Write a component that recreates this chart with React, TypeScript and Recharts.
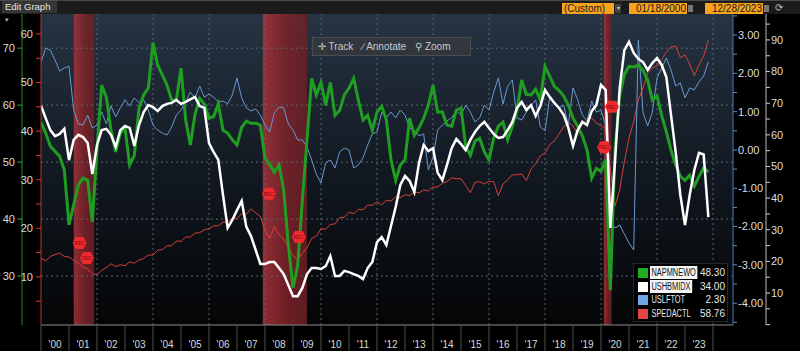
import React from 'react';
import {
  ComposedChart,
  Line,
  XAxis,
  YAxis,
  ReferenceArea,
  ReferenceLine,
  ReferenceDot,
} from 'recharts';

// bimonthly observations, Jan 2000 .. Nov 2023
const napmnewo = [
  57, 55.1, 52.8, 51.9, 51, 48.6, 39, 42.5, 46, 47.2, 46.8, 39.5,
  52.1, 63.5, 61.4, 55.6, 51.8, 55.1, 56, 49.5, 51.2, 59.5, 61.8, 63,
  71, 67, 65.3, 63.5, 60.9, 60.9, 66.5, 57.4, 53, 58.4, 61.2, 60.2,
  57.7, 58,
  60.2, 55.6, 55.1, 53.9, 53, 56.1, 57.2, 56.8, 56.8, 56.5, 50.7, 49.6,
  48.2, 49.5, 45.1, 35.4, 27.9, 31.9, 43.3, 53.9, 64.7, 61.8, 64, 60,
  64, 58.2, 59.1, 61.8, 63, 64.7, 60.9, 57.4, 58.2, 55.6, 58.8, 59.8,
  57.4, 50.4, 46.8, 49.5, 50.4, 57.7, 54.7, 56, 57.7, 60, 63.5, 58.8,
  58.8, 56.5, 56.3, 59.1, 59.5, 52.8, 51.2, 53.7, 54.2, 51.8, 50.4, 54.2,
  56.3, 57, 53.9, 56.3, 59.1, 64.4, 61.9, 61.8, 62.8, 60.9, 66.8, 65.1,
  63.3, 62.6, 61.6, 60, 57.7, 56.3, 54.6, 52.1, 47.2, 48.9, 48.4, 50.4,
  27.5, 52.1, 61.6, 65.4, 66.8, 66.7, 67, 66.1, 64.4, 60.9, 61.6, 58.2,
  55.3, 52.1, 49.5, 47.5, 46.8, 47.7, 45.8, 47.5, 49, 48.3,
];

const ushbmidx = [
  69.2, 65.3, 61.5, 59.6, 60.3, 61.9, 52, 58.4, 60, 59.3, 57.4, 47.6,
  56.8, 61.5, 61.9, 60, 56.2, 61.5, 62.8, 62.2, 56.5, 63.1, 67.2, 69.4,
  68.8, 67.5, 69.1, 69.8, 70.1, 71, 69.8, 70.4, 71.2, 72, 69.1, 68.5,
  57.4, 54.5,
  52.1, 41, 30.6, 33.1, 36.2, 39.1, 30.9, 28, 23.6, 19.2, 19.2, 19.8,
  19.8, 17.9, 16, 12.5, 9, 9, 11.6, 16, 17.9, 17.9, 17.6, 18.5,
  21.7, 15.4, 15.4, 17, 16.6, 16, 15.4, 14.4, 17.9, 19.8, 26.1, 27.7,
  25.2, 31.2, 37.2, 44.2, 47, 45.4, 41.9, 51.1, 56.8, 54.9, 55.8, 48,
  45.7, 50.5, 55.8, 58.7, 57.1, 55.2, 58.4, 60.9, 62.8, 64.1, 62.2, 60.3,
  59, 59.3, 61.5, 64.1, 68.5, 70.4, 67.9, 69.4, 66, 69.1, 74.2, 72,
  70.1, 68.5, 66.3, 62.2, 56.5, 61.5, 64.1, 63.1, 67.5, 69.4, 75.8, 74.2,
  30.6, 51.7, 74.8, 86.8, 89.4, 85.9, 84, 83, 80.5, 82.7, 84.3, 82.1,
  78.3, 66.3, 54.6, 41, 31.5, 41, 48.9, 54.3, 53.8, 34,
];

const uslftot = [
  2.3, 2.66, 2.61, 2.35, 2.06, 2.14, 2.19, 1.04, 0.68, 0.65, 0.91, 0.57,
  0.65, 0.99, 0.68, 1.15, 0.86, 1.1, 1.31, 1.15, 1.36, 1.23, 1.31, 1.04,
  0.65, 0.52, 0.44, 0.39, 0.6, 0.91, 1.04, 1.25, 1.51, 1.36, 1.67, 1.38,
  1.46, 1.38,
  1.25, 1.28, 1.2, 1.44, 1.88, 1.36, 1.1, 1.02, 1.07, 0.91, 0.65, 0.47,
  0.97, 1.12, 1.1, 0.68, 0.52, 0.26, 0.26, 0.08, -0.26, -0.63, -0.86, -0.34,
  -0.26, -0.47, -0.05, 0.05, 0, -0.47, -0.39, -0.21, 0.13, 0.42, 0.47, 0.99,
  0.84, 0.99, 0.84, 1.04, 0.91, 0.57, 0.52, 0.37, 0.42, -0.52, -0.18, 0.52,
  0.65, 0.76, 0.84, 1.02, 0.91, 1.17, 0.99, 0.73, 0.84, 1.17, 1.04, 1.51,
  1.88, 1.2, 1.67, 1.83, 0.84, 0.78, 0.99, 1.15, 1.31, 0.6, 0.5, 1.36,
  1.2, 1.1, 1.17, 0.65, 1.62, 1.31, 0.91, 0.76, 1.28, 0.99, 1.04, 0.65,
  -1.86, -2.04, -1.96, -2.19, -2.43, -2.61, 2.87, 0.97, 0.63, 0.99, 1.88, 2.14,
  2.4, 2.09, 1.67, 1.75, 1.36, 1.62, 1.57, 1.78, 1.93, 2.3,
];

const spedactl = [
  13.9, 13.3, 14.2, 14.6, 14.9, 14.2, 14.1, 13.4, 12.9, 12.0, 11.6, 10.7,
  10.4, 11.4, 11.9, 12.7, 12.1, 12.5, 12.3, 13.1, 12.8, 13.5, 13.8, 14.5,
  14.5, 15.5, 15.6, 16.4, 16.4, 17.4, 17.3, 18.2, 18.2, 19.0, 19.1, 19.7,
  19.9, 20.5,
  20.5, 21.3, 21.3, 22.1, 22.0, 23.0, 22.9, 24.0, 23.2, 22.4, 19.6, 17.9,
  20.3, 18.7, 17.8, 16.2, 14.3, 13.5, 14.9, 16.0, 17.9, 18.4, 19.9, 19.8,
  20.8, 20.9, 22.2, 22.3, 23.3, 23.0, 23.9, 23.8, 24.8, 24.7, 25.5, 24.8,
  25.8, 25.6, 26.5, 26.3, 26.9, 26.7, 27.5, 27.3, 27.9, 27.7, 28.5, 28.5,
  29.3, 29.6, 30.4, 30.2, 30.2, 28.8, 27.3, 29.5, 29.6, 29.1, 29.7, 29.6,
  26.7, 29.1, 30.0, 31.0, 31.0, 31.2, 29.8, 32.2, 33.3, 34.9, 35.5, 37.2,
  38.0, 39.4, 40.9, 41.7, 41.1, 39.4, 41.5, 42.1, 42.7, 41.7, 41.1, 40.5,
  32.0, 24.6, 27.9, 33.7, 38.6, 41.9, 46.4, 48.9, 52.0, 53.0, 53.4, 54.7,
  56.3, 57.3, 57.5, 55.1, 55.7, 53.8, 51.4, 53.6, 55.5, 58.76,
];

const yearTicks = [
  2000, 2001, 2002, 2003, 2004, 2005, 2006, 2007, 2008, 2009, 2010, 2011, 2012,
  2013, 2014, 2015, 2016, 2017, 2018, 2019, 2020, 2021, 2022, 2023, 2024,
];
const gridYears = [2002, 2004, 2006, 2008, 2010, 2012, 2014, 2016, 2018, 2020, 2022, 2024];
const napmTicks = [30, 40, 50, 60, 70];
const spedTicks = [5, 10, 15, 20, 25, 30, 35, 40, 45, 50, 55, 60];
const lfTicks = [-4.5, -4, -3.5, -3, -2.5, -2, -1.5, -1, -0.5, 0, 0.5, 1, 1.5, 2, 2.5, 3, 3.5];
const nahbTicks = [0, 5, 10, 15, 20, 25, 30, 35, 40, 45, 50, 55, 60, 65, 70, 75, 80, 85, 90, 95];

const recessions = [
  [2001.17, 2001.9],
  [2007.92, 2009.5],
  [2020.1, 2020.38],
];
const recTags = [
  { t: 2001.38, v: 17 },
  { t: 2001.64, v: 13.9 },
  { t: 2008.14, v: 27.1 },
  { t: 2009.21, v: 18.2 },
  { t: 2020.39, v: 45 },
  { t: 2020.11, v: 36.7 },
];

const legendItems = [
  { name: 'NAPMNEWO', color: '#1fae22', last: '48.30', boxed: true },
  { name: 'USHBMIDX', color: '#ffffff', last: '34.00', boxed: true },
  { name: 'USLFTOT', color: '#6ea6e6', last: '2.30', boxed: false },
  { name: 'SPEDACTL', color: '#e64545', last: '58.76', boxed: false },
];

const data = napmnewo.map((v, i) => ({
  t: 2000 + i / 6,
  napm: v,
  nahb: ushbmidx[i],
  lf: uslftot[i],
  sped: spedactl[i],
}));

const FONT = '"Liberation Sans", Arial, sans-serif';
const X_MAX = 2024.714;

// axis ids: sorted order decides stacking (first = next to the plot)
const SPED = 'a_sped';
const NAPM = 'b_napm';
const LF = 'c_lf';
const NAHB = 'd_nahb';

function YearTick(props: any) {
  const { x, y, payload } = props;
  const yr = payload.value as number;
  return (
    <g>
      <line x1={x} x2={x} y1={y} y2={y + 26} stroke="#4d4d4d" />
      {yr < 2024 && (
        <text x={x + 14} y={y + 23} textAnchor="middle" fill="#d8d8d8" fontSize={10} fontFamily={FONT}>
          {"'" + String(yr).slice(2)}
        </text>
      )}
    </g>
  );
}

function RecTag(props: any) {
  const { cx, cy } = props;
  if (cx == null || cy == null) return null;
  const pts = [
    [cx - 7, cy],
    [cx - 4, cy - 6],
    [cx + 4, cy - 6],
    [cx + 7, cy],
    [cx + 4, cy + 6],
    [cx - 4, cy + 6],
  ]
    .map((p) => p.join(','))
    .join(' ');
  return (
    <g>
      <polygon points={pts} fill="#ee2a2f" />
      <text x={cx} y={cy + 2} textAnchor="middle" fontSize={5} fill="#8a0a0a" fontFamily={FONT}>
        REC
      </text>
    </g>
  );
}

const orange = { background: '#f7a31e', color: '#1a1a1a', fontSize: 10, lineHeight: '11px', position: 'absolute' as const, top: 2, height: 11 };

export default function App() {
  return (
    <div style={{ position: 'fixed', left: 0, top: 0, width: 800, height: 351, background: '#000', overflow: 'hidden', fontFamily: FONT }}>
      <ComposedChart width={800} height={351} data={data} margin={{ top: 14, right: 0, bottom: 0, left: 0 }}>
        <defs>
          <linearGradient id="plotBg" x1="0" y1="0" x2="0" y2="1">
            <stop offset="0%" stopColor="#263443" />
            <stop offset="50%" stopColor="#121922" />
            <stop offset="100%" stopColor="#040506" />
          </linearGradient>
          <linearGradient id="recBg" x1="0" y1="0" x2="1" y2="0">
            <stop offset="0%" stopColor="#a8343b" />
            <stop offset="55%" stopColor="#7c2228" />
            <stop offset="100%" stopColor="#6a2026" />
          </linearGradient>
        </defs>
        <XAxis
          dataKey="t"
          type="number"
          domain={[2000, X_MAX]}
          ticks={yearTicks}
          allowDataOverflow
          height={26}
          tickSize={0}
          tickMargin={0}
          tickLine={false}
          axisLine={{ stroke: '#8a8a8a' }}
          tick={<YearTick />}
          interval={0}
        />
        <YAxis
          yAxisId={SPED}
          orientation="left"
          width={19}
          domain={[0.1, 64.1]}
          allowDataOverflow
          ticks={spedTicks}
          interval={0}
          tickFormatter={(v: number) => (v % 10 === 0 ? String(v) : '')}
          tickSize={5}
          tickMargin={3}
          tick={{ fill: '#dcdcdc', fontSize: 11, fontFamily: FONT }}
          tickLine={{ stroke: '#d03a3a' }}
          axisLine={{ stroke: '#b83232' }}
        />
        <YAxis
          yAxisId={NAPM}
          orientation="left"
          width={22}
          domain={[21.4, 76]}
          allowDataOverflow
          ticks={napmTicks}
          interval={0}
          tickSize={5}
          tickMargin={2}
          tick={{ fill: '#dcdcdc', fontSize: 11, fontFamily: FONT }}
          tickLine={{ stroke: '#2aa82a' }}
          axisLine={{ stroke: '#238a23' }}
        />
        <YAxis
          yAxisId={LF}
          orientation="right"
          width={33}
          domain={[-4.57, 3.55]}
          allowDataOverflow
          ticks={lfTicks}
          interval={0}
          tickFormatter={(v: number) => (Number.isInteger(v) ? v.toFixed(2) : '')}
          tickSize={4}
          tickMargin={1}
          tick={{ fill: '#dcdcdc', fontSize: 11, fontFamily: FONT }}
          tickLine={{ stroke: '#5a8ccc' }}
          axisLine={{ stroke: '#4a78b0' }}
        />
        <YAxis
          yAxisId={NAHB}
          orientation="right"
          width={34}
          domain={[-0.1, 98.2]}
          allowDataOverflow
          ticks={nahbTicks}
          interval={0}
          tickFormatter={(v: number) => (v % 10 === 0 && v > 0 ? String(v) : '')}
          tickSize={4}
          tickMargin={1}
          tick={{ fill: '#dcdcdc', fontSize: 11, fontFamily: FONT }}
          tickLine={{ stroke: '#d0d0d0' }}
          axisLine={{ stroke: '#bdbdbd' }}
        />

        <ReferenceArea yAxisId={NAPM} x1={2000} x2={X_MAX} fill="url(#plotBg)" fillOpacity={1} stroke="none" zIndex={-300} />
        {recessions.map(([a, b]) => (
          <ReferenceArea key={a} yAxisId={NAPM} x1={a} x2={b} fill="url(#recBg)" fillOpacity={0.85} stroke="none" zIndex={-250} />
        ))}
        {napmTicks.map((v) => (
          <ReferenceLine key={'h' + v} yAxisId={NAPM} y={v} stroke="#5b6570" strokeDasharray="2 3" zIndex={-200} />
        ))}
        {gridYears.map((yr) => (
          <ReferenceLine key={'v' + yr} yAxisId={NAPM} x={yr} stroke="#5b6570" strokeDasharray="2 3" zIndex={-200} />
        ))}

        <Line yAxisId={SPED} dataKey="sped" stroke="#d8403a" strokeWidth={1} dot={false} activeDot={false} isAnimationActive={false} />
        <Line yAxisId={LF} dataKey="lf" stroke="#6a98cf" strokeWidth={1} dot={false} activeDot={false} isAnimationActive={false} />
        <Line yAxisId={NAPM} dataKey="napm" stroke="#1f9e22" strokeWidth={3} dot={false} activeDot={false} isAnimationActive={false} />
        <Line yAxisId={NAHB} dataKey="nahb" stroke="#ffffff" strokeWidth={2.5} dot={false} activeDot={false} isAnimationActive={false} />

        {recTags.map((r) => (
          <ReferenceDot key={r.t} yAxisId={SPED} x={r.t} y={r.v} shape={<RecTag />} zIndex={700} />
        ))}
      </ComposedChart>

      {/* top bar */}
      <div style={{ position: 'absolute', left: 0, top: 0, width: 800, height: 14, background: '#1b1b1b', borderTop: '1px solid #4a4a4a', boxSizing: 'border-box' }}>
        <div style={{ position: 'absolute', left: 2, top: 0, width: 52, height: 12, background: '#363636', color: '#e6e6e6', fontSize: 9.5, lineHeight: '12px', paddingLeft: 3 }}>
          Edit Graph <span style={{ fontSize: 7, color: '#aaa' }}>▾</span>
        </div>
        <div style={{ ...orange, left: 562, width: 50, paddingLeft: 2 }}>(Custom)</div>
        <div style={{ position: 'absolute', left: 615, top: 3, width: 6, height: 9, background: '#444', color: '#ccc', fontSize: 6, lineHeight: '9px', textAlign: 'center' }}>▾</div>
        <div style={{ ...orange, left: 629, width: 57, textAlign: 'right', paddingRight: 1 }}>01/18/2000</div>
        <div style={{ position: 'absolute', left: 688, top: 4, width: 5, height: 7, background: '#777' }} />
        <div style={{ ...orange, left: 705, width: 57, textAlign: 'right', paddingRight: 1 }}>12/28/2023</div>
        <div style={{ position: 'absolute', left: 764, top: 4, width: 5, height: 7, background: '#777' }} />
        <div style={{ position: 'absolute', left: 775, top: 0, color: '#bbb', fontSize: 10, lineHeight: '13px' }}>⟳</div>
      </div>

      {/* chart toolbar */}
      <div style={{ position: 'absolute', left: 312, top: 37, width: 157, height: 17, background: 'rgba(52,56,62,0.85)', border: '1px solid #4c4c4c', color: '#c8c8c8', fontSize: 10, lineHeight: '17px', whiteSpace: 'nowrap' }}>
        <span style={{ marginLeft: 5 }}>✛ Track</span>
        <span style={{ marginLeft: 9 }}>∕ Annotate</span>
        <span style={{ marginLeft: 9 }}>⚲ Zoom</span>
      </div>

      {/* legend */}
      <div style={{ position: 'absolute', left: 633, top: 263, width: 95, height: 59, background: '#000', border: '1px solid #262626', boxSizing: 'border-box' }}>
        {legendItems.map((it, i) => (
          <div key={it.name} style={{ position: 'absolute', left: 0, top: 2 + i * 13.7, width: 93, height: 13 }}>
            <div style={{ position: 'absolute', left: 4, top: 2, width: 10, height: 10, background: it.color }} />
            <div
              style={{
                position: 'absolute',
                left: 16,
                top: 0,
                height: 13,
                lineHeight: '13px',
                fontSize: 10,
                padding: '0 2px',
                background: it.boxed ? '#f4f4f4' : 'transparent',
                color: it.boxed ? '#111' : '#e8e8e8',
                transform: 'scaleX(0.74)',
                transformOrigin: 'left center',
                whiteSpace: 'nowrap',
              }}
            >
              {it.name}
            </div>
            <div style={{ position: 'absolute', right: 2, top: 0, lineHeight: '13px', fontSize: 10, color: '#e8e8e8' }}>{it.last}</div>
          </div>
        ))}
      </div>
    </div>
  );
}
